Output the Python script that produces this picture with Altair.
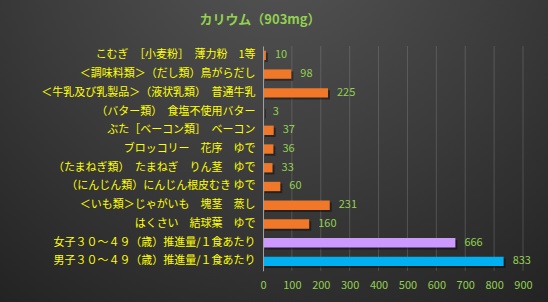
import altair as alt
import pandas as pd

FS = "\u3000"
labels = [
    "こむぎ　［小麦粉］　薄力粉　1等" + FS,
    "＜調味料類＞（だし類）鳥がらだし" + FS * 3,
    "＜牛乳及び乳製品＞（液状乳類）　普通牛乳" + FS * 3,
    "（バター類）　食塩不使用バター" + FS * 3,
    "ぶた［ベーコン類］　ベーコン" + FS * 3,
    "ブロッコリー　花序　ゆで" + FS * 3,
    "（たまねぎ類）　たまねぎ　りん茎　ゆで",
    "（にんじん類）にんじん根皮むき ゆで",
    "＜いも類＞じゃがいも　塊茎　蒸し" + FS * 3,
    "はくさい　結球葉　ゆで" + FS * 3,
    "女子３０～４９（歳）推進量/１食あたり",
    "男子３０～４９（歳）推進量/１食あたり",
]
values = [10, 98, 225, 3, 37, 36, 33, 60, 231, 160, 666, 833]
groups = ["food"] * 10 + ["female", "male"]
tick_values = [0, 100, 200, 300, 400, 500, 600, 700, 800, 900]
title_text = ["カリウム（903mg）"]

FONT = "Noto Sans CJK JP"
GREEN = "#92D050"

df = pd.DataFrame({"label": labels, "value": values, "group": groups})
grid_df = pd.DataFrame({"value": tick_values[1:]})
bg_df = pd.DataFrame({"a": [0]})
title_df = pd.DataFrame({"t": title_text})

x_enc = alt.X(
    "value:Q",
    scale=alt.Scale(domain=[0, 900], nice=False),
    axis=alt.Axis(values=tick_values, grid=False, domain=False, ticks=False,
                  labelColor=GREEN, labelFont=FONT, labelFontSize=11,
                  labelPadding=9, labelFlush=False, labelOverlap=False,
                  title=None, zindex=1),
)
y_enc = alt.Y(
    "label:N", sort=labels,
    scale=alt.Scale(paddingInner=0.5, paddingOuter=0.25),
    axis=alt.Axis(title=None, ticks=False, domainColor="#a0a0a0",
                  labelColor="#FFFF00", labelFont=FONT, labelFontSize=11,
                  labelPadding=8, labelLimit=400, zindex=1),
)

bg = alt.Chart(bg_df).mark_rect(
    fill=alt.Gradient(
        gradient="radial",
        stops=[alt.GradientStop(offset=0, color="#565656"),
               alt.GradientStop(offset=0.5, color="#3a3a3a"),
               alt.GradientStop(offset=1, color="#1c1c1c")],
        x1=0.5, y1=0.1, r1=0, x2=0.5, y2=0.1, r2=0.95,
    )
).encode(x=alt.value(-263), x2=alt.value(285), y=alt.value(-46), y2=alt.value(256))

grid = alt.Chart(grid_df).mark_rule(color="#909090", opacity=0.35, strokeWidth=1).encode(x=x_enc)

shadow = alt.Chart(df).mark_bar(color="#000000", opacity=0.4, xOffset=2, x2Offset=2, yOffset=2).encode(
    x=x_enc, y=y_enc)

bars = alt.Chart(df).mark_bar().encode(
    x=x_enc, y=y_enc,
    color=alt.Color("group:N", scale=alt.Scale(domain=["food", "female", "male"],
                                               range=["#F07828", "#CC99FF", "#00B0F0"]),
                    legend=None),
)

text = alt.Chart(df).mark_text(align="left", baseline="middle", dx=9, color=GREEN,
                               font=FONT, fontSize=11).encode(x=x_enc, y=y_enc, text="value:Q")

title = alt.Chart(title_df).mark_text(align="center", baseline="middle", color=GREEN,
                                      font=FONT, fontSize=13, fontWeight="bold").encode(
    x=alt.value(-3), y=alt.value(-26), text="t:N")

chart = alt.layer(bg, grid, shadow, bars, text, title).properties(
    width=260, height=224.8,
    autosize="none",
    padding={"left": 263, "top": 46, "right": 25, "bottom": 31},
).configure_view(stroke=None).configure(background="#2e2e2e")

chart.save("out.html", embed_options={"renderer": "svg", "actions": False})
